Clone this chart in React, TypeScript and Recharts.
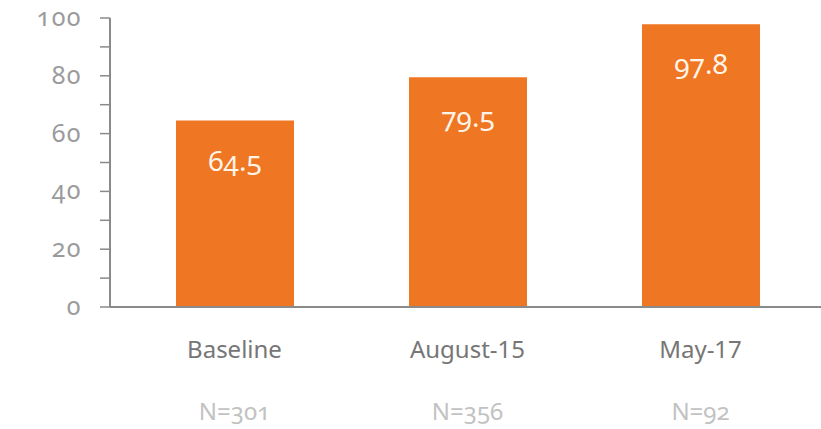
import { BarChart, Bar, XAxis, YAxis, LabelList } from 'recharts';

const categories = ['Baseline', 'August-15', 'May-17'];
const scores = [64.5, 79.5, 97.8];
const sampleSizes = ['N=301', 'N=356', 'N=92'];
const yTicks = [0, 10, 20, 30, 40, 50, 60, 70, 80, 90, 100];

const rows = categories.map((c, i) => ({ name: c, value: scores[i], n: sampleSizes[i] }));

const FONT = '"Noto Sans", Lato, sans-serif';

function YTick(props: any) {
  const { x, y, payload } = props;
  if (payload.value % 20 !== 0) return null;
  return (
    <text
      x={x - 16}
      y={y}
      dy={8}
      textAnchor="end"
      fill="#9b9b9b"
      fontSize={25}
      letterSpacing={1.5}
      fontFamily={FONT}
      style={{ fontVariantNumeric: 'oldstyle-nums' }}
    >
      {payload.value}
    </text>
  );
}

function XTick(props: any) {
  const { x, y, payload, index } = props;
  return (
    <g>
      <text x={x} y={y + 43} textAnchor="middle" fill="#767676" fontSize={24} fontFamily={FONT}>
        {payload.value}
      </text>
      <text
        x={x}
        y={y + 105}
        textAnchor="middle"
        fill="#c2c2c2"
        fontSize={24}
        fontFamily={FONT}
        style={{ fontVariantNumeric: 'oldstyle-nums' }}
      >
        {sampleSizes[index]}
      </text>
    </g>
  );
}

function ValueLabel(props: any) {
  const { x, y, width, value } = props;
  return (
    <text
      x={x + width / 2}
      y={y + 50}
      textAnchor="middle"
      fill="#fff4e8"
      fontSize={28}
      fontFamily={FONT}
      style={{ fontVariantNumeric: 'oldstyle-nums' }}
    >
      {value}
    </text>
  );
}

export default function App() {
  return (
    <div style={{ position: 'absolute', left: 0, top: 0, background: '#fff' }}>
      <BarChart width={821} height={429} data={rows} margin={{ top: 18, right: 0, bottom: 0, left: 0 }}>
        <XAxis
          dataKey="name"
          height={122}
          padding={{ left: 8, right: 4 }}
          axisLine={{ stroke: '#8a8a8a', strokeWidth: 2 }}
          tickLine={false}
          tick={<XTick />}
          interval={0}
        />
        <YAxis
          width={110}
          domain={[0, 100]}
          ticks={yTicks}
          interval={0}
          tickSize={10}
          axisLine={{ stroke: '#8a8a8a', strokeWidth: 2 }}
          tickLine={{ stroke: '#8a8a8a', strokeWidth: 1.5 }}
          tick={<YTick />}
        />
        <Bar dataKey="value" fill="#ef7622" barSize={118} isAnimationActive={false}>
          <LabelList dataKey="value" content={<ValueLabel />} />
        </Bar>
      </BarChart>
    </div>
  );
}
